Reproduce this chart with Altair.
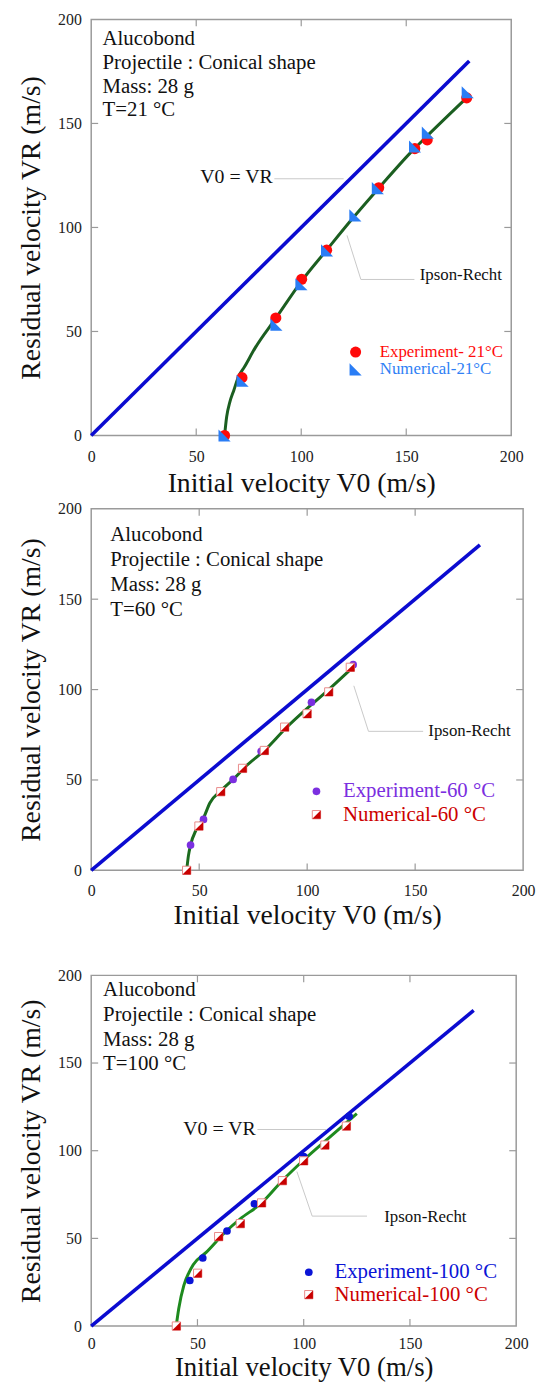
import altair as alt
import pandas as pd

FONT = "'Liberation Serif', 'Times New Roman', Times, serif"
FRAME = "#9a9a9a"

# ---------------- data ----------------
axis_ticks = [0, 50, 100, 150, 200]
inner_ticks = [50, 100, 150]
ideal_v0 = [0, 180]
ideal_vr = [0, 180]

# Panel 1 : T = 21 °C
p1_exp_v0 = [63.5, 71.8, 87.9, 100.2, 112.1, 136.9, 154.1, 160.0, 178.8]
p1_exp_vr = [0.0, 27.8, 56.5, 75.1, 89.1, 119.1, 137.9, 142.1, 162.3]
p1_num_v0 = [63.5, 72.1, 88.2, 100.1, 112.3, 125.8, 136.5, 154.2, 160.3, 179.3]
p1_num_vr = [0.0, 26.3, 53.3, 72.7, 89.0, 105.8, 118.9, 138.9, 145.6, 165.0]
p1_fit_v0 = [63.5, 64.5, 66.0, 68.0, 70.0, 73.0, 78.0, 88.0, 100.0, 112.0, 125.0, 137.0, 154.0, 160.0, 179.0]
p1_fit_vr = [0.0, 9.0, 16.0, 22.0, 28.0, 33.0, 42.0, 56.5, 74.0, 89.0, 105.0, 119.0, 138.0, 144.0, 162.5]

# Panel 2 : T = 60 °C
p2_exp_v0 = [46.0, 52.0, 65.7, 78.7, 102.0, 121.3]
p2_exp_vr = [14.0, 28.2, 50.3, 65.9, 93.0, 113.8]
p2_num_v0 = [44.2, 49.9, 60.0, 70.1, 80.2, 89.6, 100.0, 110.0, 120.0]
p2_num_vr = [0.0, 24.5, 43.5, 56.4, 66.3, 79.2, 86.6, 98.7, 112.3]
p2_fit_v0 = [44.2, 45.0, 46.0, 48.7, 52.0, 55.0, 60.0, 65.7, 72.0, 80.2, 90.0, 102.6, 110.0, 120.0]
p2_fit_vr = [0.0, 8.0, 14.0, 22.7, 29.0, 37.4, 44.0, 50.3, 58.0, 66.3, 78.5, 92.3, 100.0, 111.0]

# Panel 3 : T = 100 °C
p3_exp_v0 = [46.4, 52.5, 63.9, 76.8, 100.0, 121.4]
p3_exp_vr = [26.0, 38.8, 54.2, 69.7, 96.6, 119.6]
p3_num_v0 = [40.1, 50.1, 60.0, 70.2, 80.2, 90.0, 100.0, 110.0, 120.1]
p3_num_vr = [0.0, 30.1, 51.0, 58.4, 70.2, 82.9, 94.2, 103.2, 114.0]
p3_fit_v0 = [40.0, 41.2, 43.6, 46.0, 48.0, 54.1, 63.6, 70.0, 80.2, 90.0, 100.0, 112.0, 125.0]
p3_fit_vr = [0.0, 10.0, 23.2, 30.5, 35.0, 42.0, 54.2, 61.0, 70.2, 83.0, 94.7, 107.5, 121.1]

info_common = ["Alucobond", "Projectile : Conical shape", "Mass: 28 g"]
temps = ["T=21 °C", "T=60 °C", "T=100 °C"]
exp_labels = ["Experiment- 21°C", "Experiment-60 °C", "Experiment-100 °C"]
num_labels = ["Numerical-21°C", "Numerical-60 °C", "Numerical-100 °C"]
x_title = "Initial velocity V0 (m/s)"
y_title = "Residual velocity VR (m/s)"

TRI = "M -1 -1 L -1 1 L 1 1 Z"
HALF = "M 1 -1 L 1 1 L -1 1 Z"


def df(v0, vr, **extra):
    d = pd.DataFrame({"v0": v0, "vr": vr})
    for k, v in extra.items():
        d[k] = v
    return d


def panel(W, H, exp_v0, exp_vr, num_v0, num_vr, fit_v0, fit_vr, temp,
          exp_label, num_label, exp_color, num_text_color, fit_color,
          style, info_x, info_y, leg_x, leg_y, leg_tx, leg_fs,
          ipson_path, ipson_txt, veq_path=None, veq_txt=None,
          xlp=13, xtp=6, xfs=28):
    sx = alt.Scale(domain=[0, 200], nice=False, zero=False)
    sy = alt.Scale(domain=[0, 200], nice=False, zero=False)
    xax = alt.Axis(values=axis_ticks, title=x_title, labelFont=FONT, labelFontSize=16,
                   labelColor="#222", titleFont=FONT, titleFontSize=xfs,
                   titleFontWeight="normal", titleColor="#111", ticks=False,
                   domain=False, grid=False, labelPadding=xlp, titlePadding=xtp,
                   labelFlush=False, format="d")
    yax = alt.Axis(values=axis_ticks, title=y_title, labelFont=FONT, labelFontSize=16,
                   labelColor="#222", titleFont=FONT, titleFontSize=28,
                   titleFontWeight="normal", titleColor="#111", ticks=False,
                   domain=False, grid=False, labelPadding=10, titlePadding=12,
                   labelFlush=False, format="d")
    X = alt.X("v0:Q", scale=sx, axis=xax)
    Y = alt.Y("vr:Q", scale=sy, axis=yax)

    layers = []
    tdf = df(inner_ticks, inner_ticks)
    tick_len = 7
    layers.append(alt.Chart(tdf).mark_rule(color=FRAME, strokeWidth=1.2).encode(
        x=X, y=alt.value(H), y2=alt.value(H - tick_len)))
    layers.append(alt.Chart(tdf).mark_rule(color=FRAME, strokeWidth=1.2).encode(
        x=X, y=alt.value(0), y2=alt.value(tick_len)))
    layers.append(alt.Chart(tdf).mark_rule(color=FRAME, strokeWidth=1.2).encode(
        y=Y, x=alt.value(0), x2=alt.value(tick_len)))
    layers.append(alt.Chart(tdf).mark_rule(color=FRAME, strokeWidth=1.2).encode(
        y=Y, x=alt.value(W), x2=alt.value(W - tick_len)))

    # leader lines
    lead = [df(ipson_path[0], ipson_path[1], id="ipson", o=list(range(len(ipson_path[0]))))]
    if veq_path is not None:
        lead.append(df(veq_path[0], veq_path[1], id="veq", o=list(range(len(veq_path[0])))))
    layers.append(alt.Chart(pd.concat(lead)).mark_line(color="#c8c8c8", strokeWidth=1).encode(
        x=X, y=Y, detail="id:N", order="o:Q"))

    # ideal line and fit
    layers.append(alt.Chart(df(ideal_v0, ideal_vr)).mark_line(
        color="#0b0bd0", strokeWidth=3.6).encode(x=X, y=Y))
    layers.append(alt.Chart(df(fit_v0, fit_vr)).mark_line(
        color=fit_color, strokeWidth=3, interpolate="monotone").encode(x=X, y=Y))

    exp_df = df(exp_v0 + [leg_x], exp_vr + [leg_y[0]])
    num_df = df(num_v0 + [leg_x], num_vr + [leg_y[1]])
    if style == 1:
        layers.append(alt.Chart(exp_df).mark_point(shape="circle", filled=True, size=125,
                                                   color=exp_color, opacity=1).encode(x=X, y=Y))
        layers.append(alt.Chart(num_df).mark_point(shape=TRI, filled=True, size=150,
                                                   color="#2a7df5", opacity=1).encode(x=X, y=Y))
    else:
        layers.append(alt.Chart(exp_df).mark_point(shape="circle", filled=True, size=60,
                                                   color=exp_color, opacity=1).encode(x=X, y=Y))
        layers.append(alt.Chart(num_df).mark_point(shape="square", filled=True, size=70,
                                                   fill="white", stroke="#e98a8a",
                                                   strokeWidth=1, opacity=1).encode(x=X, y=Y))
        layers.append(alt.Chart(num_df).mark_point(shape=HALF, filled=True, size=70,
                                                   color="#c80000", opacity=1).encode(x=X, y=Y))

    # info block
    info = df([info_x] * 4, info_y, t=info_common + [temp])
    layers.append(alt.Chart(info).mark_text(align="left", baseline="middle", font=FONT,
                                            fontSize=21, color="#111").encode(x=X, y=Y, text="t:N"))
    # legend texts
    legt = df([leg_tx, leg_tx], leg_y, t=[exp_label, num_label], c=[exp_color, num_text_color])
    layers.append(alt.Chart(legt).mark_text(align="left", baseline="middle", font=FONT,
                                            fontSize=leg_fs).encode(
        x=X, y=Y, text="t:N", color=alt.Color("c:N", scale=None)))
    # ipson / v0=vr labels
    layers.append(alt.Chart(df([ipson_txt[0]], [ipson_txt[1]], t=["Ipson-Recht"])).mark_text(
        align="left", baseline="middle", font=FONT, fontSize=17, color="#111").encode(
        x=X, y=Y, text="t:N"))
    if veq_txt is not None:
        layers.append(alt.Chart(df([veq_txt[0]], [veq_txt[1]], t=["V0 = VR"])).mark_text(
            align="right", baseline="middle", font=FONT, fontSize=20, color="#111").encode(
            x=X, y=Y, text="t:N"))

    return alt.layer(*layers).properties(width=W, height=H)


c1 = panel(424, 420, p1_exp_v0, p1_exp_vr, p1_num_v0, p1_num_vr, p1_fit_v0, p1_fit_vr,
           temps[0], exp_labels[0], num_labels[0], "#ff0a0a", "#2f7ff5", "#1b5e20",
           1, 5.4, [190.8, 178.9, 167.7, 156.6], 125.9, [40.1, 31.8], 137.4, 17,
           ([121.8, 128.4, 153.9], [96.2, 75.0, 75.0]), (156.4, 77.0),
           veq_path=([87.2, 120.2], [123.4, 123.4]), veq_txt=(86.4, 124.0),
           xlp=13, xtp=6, xfs=28)

c2 = panel(436, 365, p2_exp_v0, p2_exp_vr, p2_num_v0, p2_num_vr, p2_fit_v0, p2_fit_vr,
           temps[1], exp_labels[1], num_labels[1], "#7b2fe0", "#cc0000", "#1b6b1e",
           2, 8.8, [185.3, 171.4, 157.6, 143.8], 104.3, [43.7, 30.8], 116.6, 21,
           ([121.6, 128.4, 153.7], [102.1, 76.9, 76.9]), (156.1, 77.2),
           xlp=12, xtp=4, xfs=28)

c3 = panel(429, 354, p3_exp_v0, p3_exp_vr, p3_num_v0, p3_num_vr, p3_fit_v0, p3_fit_vr,
           temps[2], exp_labels[2], num_labels[2], "#0a14d6", "#cc0000", "#1e8a1e",
           2, 5.6, [191.5, 177.4, 163.3, 149.6], 102.4, [30.7, 17.9], 114.5, 21,
           ([96.8, 104.0, 129.8], [88.1, 62.7, 62.7]), (137.9, 62.4),
           veq_path=([78.2, 110.5], [112.1, 112.1]), veq_txt=(77.4, 112.1),
           xlp=10, xtp=3, xfs=27).properties(
    title=alt.TitleParams(" ", fontSize=10, offset=25))

chart = alt.vconcat(c1, c2, c3, spacing=1).properties(
    padding={"left": 9, "top": -4, "right": 0, "bottom": 0}
).configure_view(stroke=FRAME, strokeWidth=1.5)

chart.save("out.html", embed_options={"renderer": "svg", "actions": False})
